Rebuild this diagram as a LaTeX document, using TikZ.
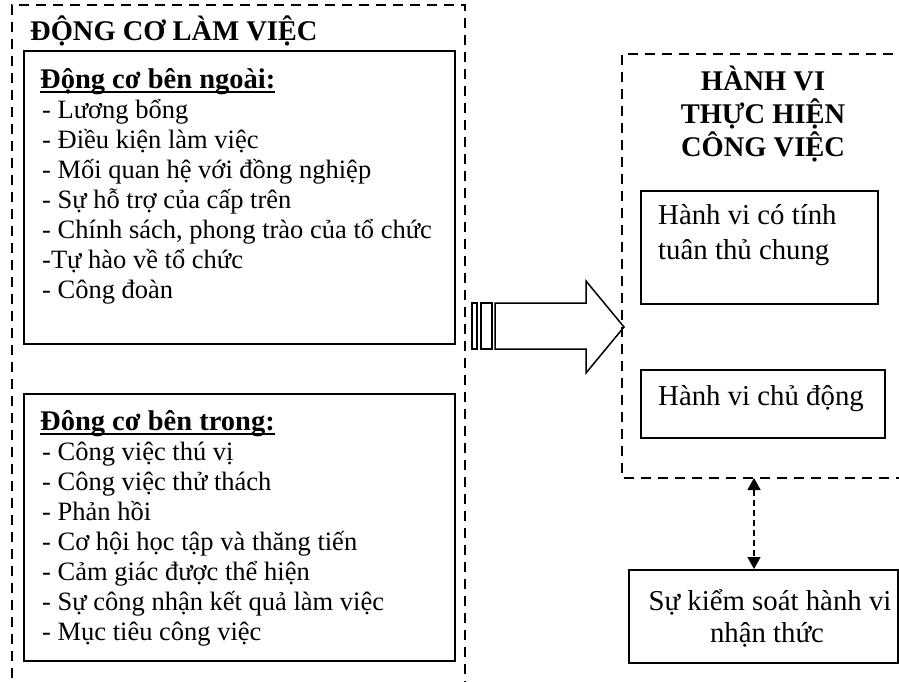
\documentclass[tikz,border=0pt]{standalone}
\usepackage{fontspec}
\setmainfont{Liberation Serif}
\usetikzlibrary{arrows.meta}
\newcommand\myul[1]{\setbox0=\hbox{#1}\rlap{\rule[-4.5pt]{\wd0}{1.8pt}}\box0}
\begin{document}
\begin{tikzpicture}[x=1pt,y=-1pt,
  every node/.style={font=\fontsize{26.5}{30}\selectfont, inner sep=0pt},
  txt/.style={anchor=base west},
  rtxt/.style={anchor=base west, font=\fontsize{28.8}{33}\selectfont},
  ctxt/.style={anchor=base, font=\fontsize{28.8}{33}\selectfont},
  hd/.style={anchor=base west, font=\fontsize{28.5}{33}\selectfont\bfseries},
  chd/.style={anchor=base, font=\fontsize{28.5}{33}\selectfont\bfseries},
  outer/.style={draw, line width=2pt, dash pattern=on 10pt off 7pt},
  box/.style={draw, line width=1.6pt, anchor=north west, inner sep=0pt},
  bigarrow/.style={draw, line width=1.5pt, line join=miter},
  tipA/.style={line width=1.5pt, dash pattern=on 6pt off 4pt,
    {Triangle[width=13pt,length=12pt]}-{Triangle[width=13pt,length=12pt]}}
  ]
\useasboundingbox (0,0) rectangle (899,681);
\fill[white] (0,0) rectangle (899,681);

% outer dashed frames
\draw[outer] (12,695) -- (12,5) -- (465,5) -- (465,695);
\draw[outer] (910,54) -- (622,54) -- (622,478) -- (910,478);
\coordinate (hvb) at (754,478);

% solid boxes
\node[box, minimum width=431pt, minimum height=293pt] (ext) at (23,50) {};
\node[box, minimum width=431pt, minimum height=267pt] (int) at (23,393) {};
\node[box, minimum width=237pt, minimum height=113pt] (tuan) at (640,190) {};
\node[box, minimum width=244pt, minimum height=68pt] (chu) at (640,369) {};
\node[box, minimum width=269pt, minimum height=93pt] (kiem) at (628,569) {};

% left texts
\node[hd] (t1) at (30,40) {ĐỘNG CƠ LÀM VIỆC};
\node[hd] (h1) at (40,88) {\myul{Động cơ bên ngoài:}};
\node[txt] (e1) at (42,118) {- Lương bổng};
\node[txt] (e2) at (42,148) {- Điều kiện làm việc};
\node[txt] (e3) at (42,178) {- Mối quan hệ với đồng nghiệp};
\node[txt] (e4) at (42,208) {- Sự hỗ trợ của cấp trên};
\node[txt] (e5) at (42,238) {- Chính sách, phong trào của tổ chức};
\node[txt] (e6) at (42,268) {-Tự hào về tổ chức};
\node[txt] (e7) at (42,298) {- Công đoàn};

\node[hd] (h2) at (40,430) {\myul{Đông cơ bên trong:}};
\node[txt] (i1) at (42,460) {- Công việc thú vị};
\node[txt] (i2) at (42,490) {- Công việc thử thách};
\node[txt] (i3) at (42,520) {- Phản hồi};
\node[txt] (i4) at (42,550) {- Cơ hội học tập và thăng tiến};
\node[txt] (i5) at (42,580) {- Cảm giác được thể hiện};
\node[txt] (i6) at (42,610) {- Sự công nhận kết quả làm việc};
\node[txt] (i7) at (42,640) {- Mục tiêu công việc};

% right texts
\node[chd] (r1) at (763,90) {HÀNH VI};
\node[chd] (r2) at (763,123) {THỰC HIỆN};
\node[chd] (r3) at (763,156) {CÔNG VIỆC};
\node[rtxt] (tu1) at (658,224) {Hành vi có tính};
\node[rtxt] (tu2) at (658,259) {tuân thủ chung};
\node[ctxt] (ch1) at (761,405) {Hành vi chủ động};
\node[ctxt] (k1) at (770,610) {Sự kiểm soát hành vi};
\node[ctxt] (k2) at (767,642) {nhận thức};

% block arrow
\draw[bigarrow] (472,303) rectangle (477,349);
\draw[bigarrow] (481,303) rectangle (492,349);
\draw[bigarrow] (495,303) -- (586,303) -- (586,281) -- (624,327) -- (586,373)
  -- (586,349) -- (495,349) -- cycle;

% dashed double arrow
\draw[tipA] (hvb) -- (hvb |- kiem.north);
\end{tikzpicture}
\end{document}
